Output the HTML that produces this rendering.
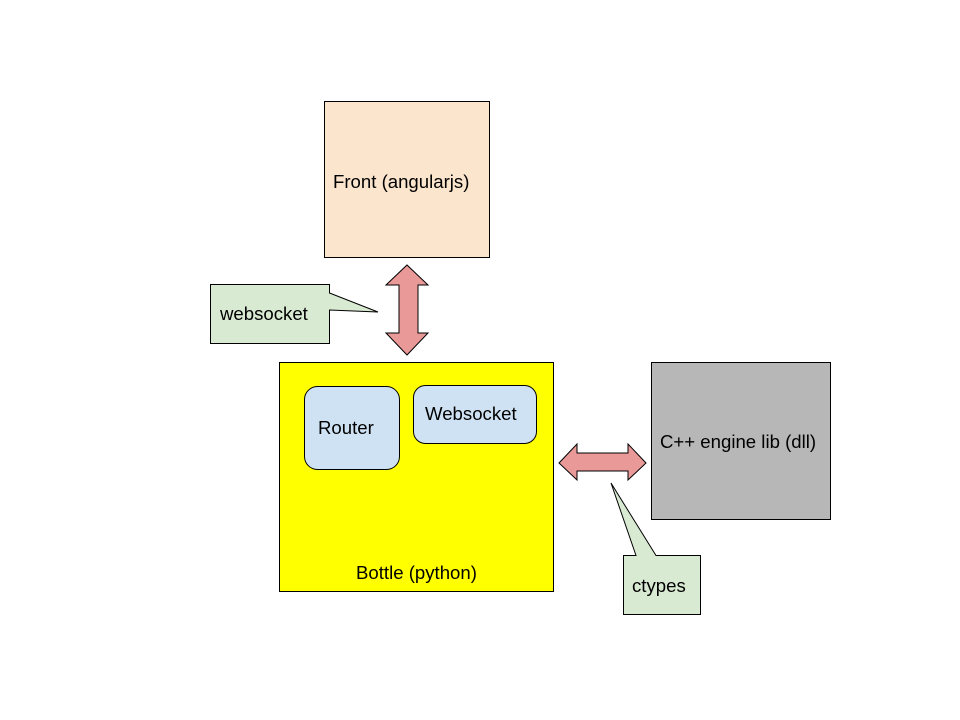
<!DOCTYPE html>
<html><head><meta charset="utf-8"><style>
html,body{margin:0;padding:0;background:#fff;}
svg{display:block}
text{font-family:"Liberation Sans",Arial,sans-serif;font-size:18.6px;fill:#000}
</style></head><body>
<svg width="960" height="720" viewBox="0 0 960 720" xmlns="http://www.w3.org/2000/svg">
<rect x="324.5" y="101.5" width="165" height="156" fill="#fce5cd" stroke="#000" stroke-width="1"/>
<text x="333" y="188">Front (angularjs)</text>
<rect x="279.5" y="362.5" width="274" height="229" fill="#ffff00" stroke="#000" stroke-width="1"/>
<text x="356" y="579">Bottle (python)</text>
<rect x="304.5" y="386.5" width="95" height="83" rx="13" fill="#cfe2f3" stroke="#000" stroke-width="1"/>
<text x="318" y="434">Router</text>
<rect x="413.5" y="385.5" width="123" height="58" rx="12" fill="#cfe2f3" stroke="#000" stroke-width="1"/>
<text x="425" y="420">Websocket</text>
<rect x="651.5" y="362.5" width="179" height="157" fill="#b7b7b7" stroke="#000" stroke-width="1"/>
<text x="660" y="448">C++ engine lib (dll)</text>
<polygon points="407,265 428,285 418,285 418,333 428,333 407,355 386,333 399,333 399,285 386,285" fill="#ea9999" stroke="#000" stroke-width="1"/>
<polygon points="559,463 577,444 577,453 628,453 628,444 646,463 628,480 628,471 577,471 577,480" fill="#ea9999" stroke="#000" stroke-width="1"/>
<polygon points="210.5,284.5 329.5,284.5 329.5,293 378,312 329.5,310 329.5,343.5 210.5,343.5" fill="#d9ead3" stroke="#000" stroke-width="1"/>
<text x="220" y="320">websocket</text>
<polygon points="623.5,555.5 636,555.5 611,483 656,555.5 700.5,555.5 700.5,614.5 623.5,614.5" fill="#d9ead3" stroke="#000" stroke-width="1"/>
<text x="632" y="592">ctypes</text>
</svg>
</body></html>
